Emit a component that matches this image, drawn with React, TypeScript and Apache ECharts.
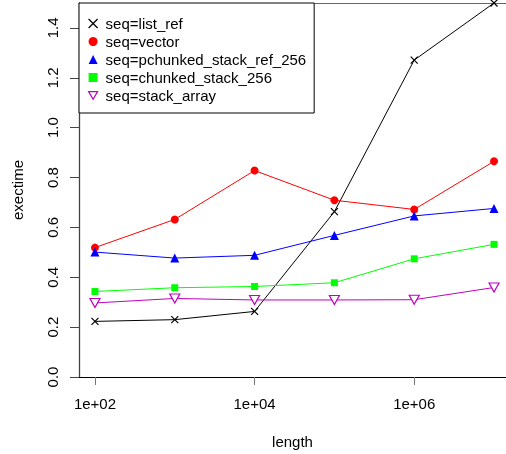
import React, { useEffect, useRef } from "react";
import * as echarts from "echarts";

const lengths = [1e2, 1e3, 1e4, 1e5, 1e6, 1e7];
const seriesNames = [
  "seq=list_ref",
  "seq=vector",
  "seq=pchunked_stack_ref_256",
  "seq=chunked_stack_256",
  "seq=stack_array",
];
const listRef = [0.223, 0.23, 0.263, 0.663, 1.271, 1.5];
const vectorVals = [0.519, 0.632, 0.828, 0.709, 0.672, 0.865];
const pchunkedVals = [0.501, 0.477, 0.488, 0.568, 0.646, 0.676];
const chunkedVals = [0.343, 0.358, 0.363, 0.378, 0.474, 0.532];
const stackArrayVals = [0.297, 0.315, 0.309, 0.309, 0.31, 0.359];
const xTickExponents = [2, 4, 6];
const yTicks = [0, 0.2, 0.4, 0.6, 0.8, 1.0, 1.2, 1.4];

const FONT = "'Liberation Sans', Arial, sans-serif";
const crossPath = "path://M0,0L10,10M10,0L0,10";
const downTriPath = "path://M0,0L10,0L5,8.66Z";

export default function App() {
  const ref = useRef<HTMLDivElement>(null);
  useEffect(() => {
    if (!ref.current) return;
    const chart = echarts.init(ref.current, undefined, { renderer: "svg" });
    const toData = (vals: number[]) => lengths.map((l, i) => [Math.log10(l), vals[i]]);
    const xmin = 1.8;
    const xmax = 7.15;
    const defs = [
      { vals: listRef, color: "#000000", symbol: crossPath, size: 7, kind: "stroke" },
      { vals: vectorVals, color: "#FF0000", symbol: "circle", size: 8, kind: "fill" },
      { vals: pchunkedVals, color: "#0000FF", symbol: "triangle", size: 9, kind: "fill" },
      { vals: chunkedVals, color: "#00FF00", symbol: "rect", size: 7, kind: "fill" },
      { vals: stackArrayVals, color: "#C000C0", symbol: downTriPath, size: [10, 9], kind: "empty" },
    ];
    const styleFor = (d: any) =>
      d.kind === "stroke"
        ? { color: d.color, borderColor: d.color, borderWidth: 1.2 }
        : d.kind === "empty"
        ? { color: "#fff", borderColor: d.color, borderWidth: 1.2 }
        : { color: d.color, borderWidth: 0 };
    const series = defs.map((d, i) => ({
      name: seriesNames[i],
      type: "line",
      xAxisIndex: 0,
      data: toData(d.vals),
      symbol: d.symbol,
      symbolSize: d.size,
      showAllSymbol: true,
      lineStyle: { color: d.color, width: 1 },
      itemStyle: styleFor(d),
      emphasis: { disabled: true },
    }));
    const legendData = defs.map((d, i) => ({
      name: seriesNames[i],
      icon: d.symbol,
      itemStyle: styleFor(d),
    }));
    chart.setOption({
      animation: false,
      textStyle: { fontFamily: FONT },
      grid: { left: 79, right: 0, top: 3, bottom: 74, containLabel: false },
      legend: {
        orient: "vertical",
        left: 79,
        top: 3,
        padding: [13, 8, 10, 9],
        itemWidth: 9,
        itemHeight: 9,
        itemGap: 3,
        borderColor: "#000",
        borderWidth: 1,
        borderRadius: 0,
        backgroundColor: "#fff",
        selectedMode: false,
        textStyle: { fontFamily: FONT, fontSize: 15, color: "#000", lineHeight: 15, padding: [0, 0, 0, 3] },
        data: legendData,
      },
      xAxis: [
        {
          type: "value",
          position: "bottom",
          offset: 2,
          min: xmin,
          max: xmax,
          name: "length",
          nameLocation: "middle",
          nameGap: 55,
          nameTextStyle: { fontFamily: FONT, fontSize: 15, color: "#000" },
          axisLine: { show: false },
          axisTick: { show: true, length: 8, lineStyle: { color: "#777" }, customValues: xTickExponents },
          axisLabel: {
            show: true,
            margin: 17,
            fontFamily: FONT,
            fontSize: 15,
            color: "#000",
            customValues: xTickExponents,
            formatter: (v: number) => "1e+" + String(Math.round(v)).padStart(2, "0"),
          },
          splitLine: { show: false },
        },
        {
          type: "value",
          position: "bottom",
          offset: 0,
          min: xmin,
          max: xmax,
          axisLine: { show: true, lineStyle: { color: "#000", width: 1 } },
          axisTick: { show: false },
          axisLabel: { show: false },
          splitLine: { show: false },
        },
        {
          type: "value",
          position: "top",
          offset: 0,
          min: xmin,
          max: xmax,
          axisLine: { show: true, lineStyle: { color: "#666", width: 1 } },
          axisTick: { show: false },
          axisLabel: { show: false },
          splitLine: { show: false },
        },
      ],
      yAxis: {
        type: "value",
        min: 0,
        max: 1.5,
        name: "exectime",
        nameLocation: "middle",
        nameRotate: 90,
        nameGap: 54,
        nameTextStyle: { fontFamily: FONT, fontSize: 15, color: "#000" },
        axisLine: { show: true, lineStyle: { color: "#444", width: 1.3 } },
        axisTick: { show: true, length: 9, lineStyle: { color: "#444" }, customValues: yTicks },
        axisLabel: {
          show: true,
          rotate: 90,
          margin: 19,
          fontFamily: FONT,
          fontSize: 15,
          color: "#000",
          customValues: yTicks,
          formatter: (v: number) => v.toFixed(1),
        },
        splitLine: { show: false },
      },
      series,
    });
    return () => chart.dispose();
  }, []);
  return (
    <div
      ref={ref}
      style={{ position: "fixed", left: 0, top: 0, width: 506, height: 454 }}
    />
  );
}
